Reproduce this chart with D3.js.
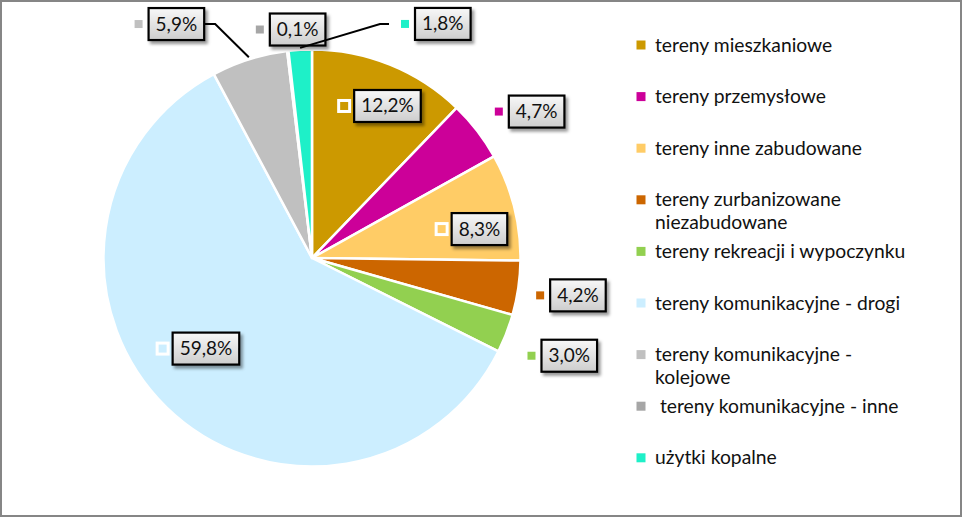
<!DOCTYPE html>
<html><head><meta charset="utf-8">
<script src="https://cdn.jsdelivr.net/npm/d3@7"></script>
<style>body{margin:0;background:#fff} svg{display:block}</style>
</head><body>
<svg id="chart" width="963" height="518"></svg>
<script>
const categories = ["tereny mieszkaniowe","tereny przemysłowe","tereny inne zabudowane","tereny zurbanizowane niezabudowane","tereny rekreacji i wypoczynku","tereny komunikacyjne - drogi","tereny komunikacyjne - kolejowe"," tereny komunikacyjne - inne","użytki kopalne"];
const values = [12.2,4.7,8.3,4.2,3.0,59.8,5.9,0.1,1.8];
const colors = ["#cc9900","#cc0099","#ffcc66","#cc6600","#92d050","#cceeff","#c0c0c0","#a6a6a6","#1ef0c8"];
// label layout: angle (deg clockwise from top) and radius factor of each label box centre
const labelAngle = [26.4,56.9,80.2,98.0,110.8,229.5,329.9,356.4,29.2];
const labelRadius = [0.814,1.286,0.815,1.288,1.32,0.669,1.297,1.098,1.286];
const labelLeader = [false,false,false,false,false,false,true,false,true];

const svg = d3.select("#chart");
const W = 963, H = 518;
const cx = 312, cy = 258, R = 208.5;
const fontFam = "Lato, 'Open Sans', sans-serif";
const pl = d3.formatLocale({decimal: ",", thousands: " ", grouping: [3], currency: ["", ""]});
const fmt = v => pl.format(".1f")(v) + "%";

const defs = svg.append("defs");
const grad = defs.append("linearGradient").attr("id","boxg").attr("x1",0).attr("y1",0).attr("x2",0).attr("y2",1);
grad.append("stop").attr("offset","0%").attr("stop-color","#f8f8f8");
grad.append("stop").attr("offset","100%").attr("stop-color","#cdcdcd");
const f = defs.append("filter").attr("id","shadow").attr("x","-20%").attr("y","-30%").attr("width","150%").attr("height","180%");
f.append("feDropShadow").attr("dx",2.5).attr("dy",3).attr("stdDeviation",1.8).attr("flood-color","#000").attr("flood-opacity",0.4);

// frame
svg.append("rect").attr("x",1).attr("y",1).attr("width",W-3).attr("height",H-3)
  .attr("fill","#fff").attr("stroke","#868686").attr("stroke-width",2);

const pie = d3.pie().sort(null).value(d => d);
const arcs = pie(values);
const arc = d3.arc().innerRadius(0).outerRadius(R);
const g = svg.append("g").attr("transform",`translate(${cx},${cy})`);
g.selectAll("path.slice").data(arcs).join("path").attr("class","slice")
  .attr("d",arc).attr("fill",(d,i)=>colors[i]).attr("stroke","#fff").attr("stroke-width",2.5).attr("stroke-linejoin","round");

const rad = a => a * Math.PI / 180;
const pos = (aDeg, r) => [Math.sin(rad(aDeg)) * r, -Math.cos(rad(aDeg)) * r];

// data labels
const lg = g.append("g");
arcs.forEach((d,i) => {
  const [bx, by] = pos(labelAngle[i], labelRadius[i]*R);
  const t = lg.append("text").attr("font-family",fontFam).attr("font-size",19).attr("fill","#111")
    .attr("text-anchor","middle").attr("x",bx).attr("y",by+6.5).text(fmt(d.data));
  const tw = t.node().getComputedTextLength();
  const bw = tw + 14, bh = 32;
  const bl = bx - bw/2;
  if (labelLeader[i]) {
    const mid = (d.startAngle + d.endAngle) / 2;
    const [px, py] = [Math.sin(mid)*(R+2), -Math.cos(mid)*(R+2)];
    let ex, kx;
    if (bx < px) { ex = bx + bw/2; kx = ex + 11; }
    else { ex = bl - 10 - 16; kx = ex - 9; }
    lg.insert("path", "text").attr("d", d3.line()([[px,py],[kx,by],[ex,by]]))
      .attr("fill","none").attr("stroke","#000").attr("stroke-width",2);
  }
  lg.insert("rect","text").attr("x",bl).attr("y",by-bh/2).attr("width",bw).attr("height",bh)
    .attr("fill","url(#boxg)").attr("stroke","#000").attr("stroke-width",2.2).attr("filter","url(#shadow)");
  lg.insert("rect","text").attr("x",bl-10-5.5).attr("y",by-5.5).attr("width",11).attr("height",11)
    .attr("fill",colors[i]).attr("stroke","#fff").attr("stroke-width",3);
});

// legend
const leg = svg.append("g");
const legX = 641, legY0 = 45, legStep = 51.6, lineH = 23, wrapW = 262;
categories.forEach((c,i) => {
  const y = legY0 + i*legStep;
  leg.append("rect").attr("x",legX-4.5).attr("y",y-4.5).attr("width",9).attr("height",9).attr("fill",colors[i]);
  const t = leg.append("text").attr("font-family",fontFam).attr("font-size",19.3).attr("fill","#111")
    .attr("x",655).attr("y",y+6.5).style("white-space","pre");
  const words = c.split(" ");
  let line = [], tsp = t.append("tspan").attr("x",655).attr("y",y+6.5), ln = 0;
  words.forEach(w => {
    line.push(w);
    tsp.text(line.join(" "));
    if (tsp.node().getComputedTextLength() > wrapW && line.length > 1) {
      line.pop(); tsp.text(line.join(" "));
      line = [w]; ln++;
      tsp = t.append("tspan").attr("x",655).attr("y",y+6.5+ln*lineH).text(w);
    }
  });
});
</script>
</body></html>
